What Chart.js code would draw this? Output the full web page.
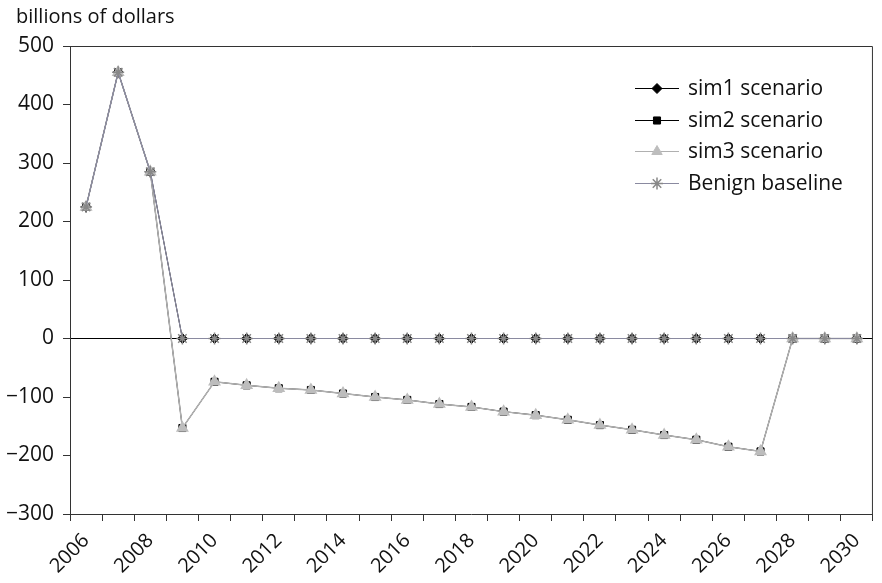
<!DOCTYPE html>
<html>
<head>
<meta charset="utf-8">
<script src="https://cdn.jsdelivr.net/npm/chart.js@4.4.1/dist/chart.umd.min.js"></script>
<style>
  html, body { margin: 0; padding: 0; background: #fff; }
  #wrap { width: 882px; height: 583px; position: relative; }
</style>
</head>
<body>
<div id="wrap"><canvas id="chart"></canvas></div>
<script>
  // values
  const years = ['2006', '2007', '2008', '2009', '2010', '2011', '2012', '2013', '2014', '2015',
    '2016', '2017', '2018', '2019', '2020', '2021', '2022', '2023', '2024', '2025',
    '2026', '2027', '2028', '2029', '2030'];

  const sim1 = [225, 455, 285, 0, 0, 0, 0, 0, 0, 0, 0, 0, 0, 0, 0, 0, 0, 0, 0, 0, 0, 0, 0, 0, 0];
  const sim2 = [225, 455, 285, -153, -74, -80, -85, -88, -94, -100, -105, -112, -117, -125,
    -131, -139, -148, -156, -165, -173, -185, -193, 0, 0, 0];
  const sim3 = [225, 455, 285, -153, -74, -80, -85, -88, -94, -100, -105, -112, -117, -125,
    -131, -139, -148, -156, -165, -173, -185, -193, 0, 0, 0];
  const benign = [225, 455, 285, 0, 0, 0, 0, 0, 0, 0, 0, 0, 0, 0, 0, 0, 0, 0, 0, 0, 0, 0, 0, 0, 0];

  const yTicks = [-300, -200, -100, 0, 100, 200, 300, 400, 500];
  const seriesNames = ['sim1 scenario', 'sim2 scenario', 'sim3 scenario', 'Benign baseline'];

  const FONT = '"Open Sans", "DejaVu Sans", sans-serif';

  // box round the plot area, title and legend
  const frame = {
    id: 'frame',
    afterDraw(chart) {
      const { ctx, chartArea: a } = chart;
      ctx.save();
      ctx.strokeStyle = '#333';
      ctx.lineWidth = 1;
      ctx.beginPath();
      ctx.moveTo(a.left, a.top + 0.5);
      ctx.lineTo(a.right - 0.5, a.top + 0.5);
      ctx.lineTo(a.right - 0.5, a.bottom);
      ctx.stroke();

      ctx.fillStyle = '#111';
      ctx.font = '20px ' + FONT;
      ctx.textBaseline = 'alphabetic';
      ctx.textAlign = 'left';
      ctx.fillText('billions of dollars', 16, 23);

      // legend
      chart.data.datasets.forEach((ds, i) => {
        const y = Math.round(88 + i * 31.6) + 0.5;
        ctx.strokeStyle = ds.borderColor;
        ctx.lineWidth = 1;
        ctx.beginPath();
        ctx.moveTo(635, y);
        ctx.lineTo(679, y);
        ctx.stroke();
        ctx.fillStyle = ds.pointBackgroundColor;
        ctx.strokeStyle = ds.pointBorderColor;
        ctx.lineWidth = ds.pointBorderWidth || 1;
        Chart.helpers.drawPoint(ctx, {
          pointStyle: ds.pointStyle,
          radius: ds.pointRadius,
          borderWidth: ds.pointBorderWidth || 1
        }, 657, y);
        ctx.fillStyle = '#111';
        ctx.textBaseline = 'middle';
        ctx.font = '21px ' + FONT;
        ctx.fillText(seriesNames[i], 688, y + 1);
      });
      ctx.restore();
    }
  };

  const ctx = document.getElementById('chart').getContext('2d');
  new Chart(ctx, {
    type: 'line',
    data: {
      labels: years,
      datasets: [{
        label: seriesNames[0],
        data: sim1,
        borderColor: '#000',
        borderWidth: 1,
        pointStyle: 'rectRot',
        pointRadius: 5,
        pointBackgroundColor: '#000',
        pointBorderColor: '#000',
        order: 4
      }, {
        label: seriesNames[1],
        data: sim2,
        borderColor: '#000',
        borderWidth: 1,
        pointStyle: 'rect',
        pointRadius: 5,
        pointBackgroundColor: '#000',
        pointBorderColor: '#000',
        order: 3
      }, {
        label: seriesNames[2],
        data: sim3,
        borderColor: '#b0b0b0',
        borderWidth: 1.5,
        pointStyle: 'triangle',
        pointRadius: 6,
        pointBackgroundColor: '#bdbdbd',
        pointBorderColor: '#bdbdbd',
        order: 2
      }, {
        label: seriesNames[3],
        data: benign,
        borderColor: '#8a8aa0',
        borderWidth: 1.2,
        pointStyle: 'star',
        pointRadius: 6,
        pointBorderWidth: 1.5,
        pointBackgroundColor: '#888',
        pointBorderColor: '#888',
        order: 1
      }]
    },
    options: {
      responsive: true,
      maintainAspectRatio: false,
      animation: false,
      layout: { padding: { top: 46, right: 6, left: 0, bottom: 0 } },
      plugins: {
        legend: { display: false },
        tooltip: { enabled: false }
      },
      scales: {
        x: {
          offset: true,
          afterFit(scale) { scale.height = 69; },
          grid: {
            offset: true,
            drawOnChartArea: false,
            tickLength: 7,
            color: '#333'
          },
          border: { color: '#333', width: 1 },
          ticks: {
            autoSkip: false,
            maxRotation: 45,
            minRotation: 45,
            padding: 8,
            color: '#111',
            font: { family: FONT, size: 20 },
            callback(v, i) { return i % 2 === 0 ? years[i] : ''; }
          }
        },
        y: {
          min: yTicks[0],
          max: yTicks[yTicks.length - 1],
          afterFit(scale) { scale.width = 70; },
          afterBuildTicks(scale) { scale.ticks = yTicks.map(v => ({ value: v })); },
          grid: {
            drawOnChartArea: true,
            tickLength: 7,
            color: c => (c.tick && c.tick.value === 0 ? '#000' : 'rgba(0,0,0,0)'),
            tickColor: '#333'
          },
          border: { color: '#333', width: 1 },
          ticks: {
            padding: 9,
            color: '#111',
            font: { family: FONT, size: 21 },
            callback(v) { return v < 0 ? '\u2212' + Math.abs(v) : String(v); }
          }
        }
      }
    },
    plugins: [frame]
  });
</script>
</body>
</html>
